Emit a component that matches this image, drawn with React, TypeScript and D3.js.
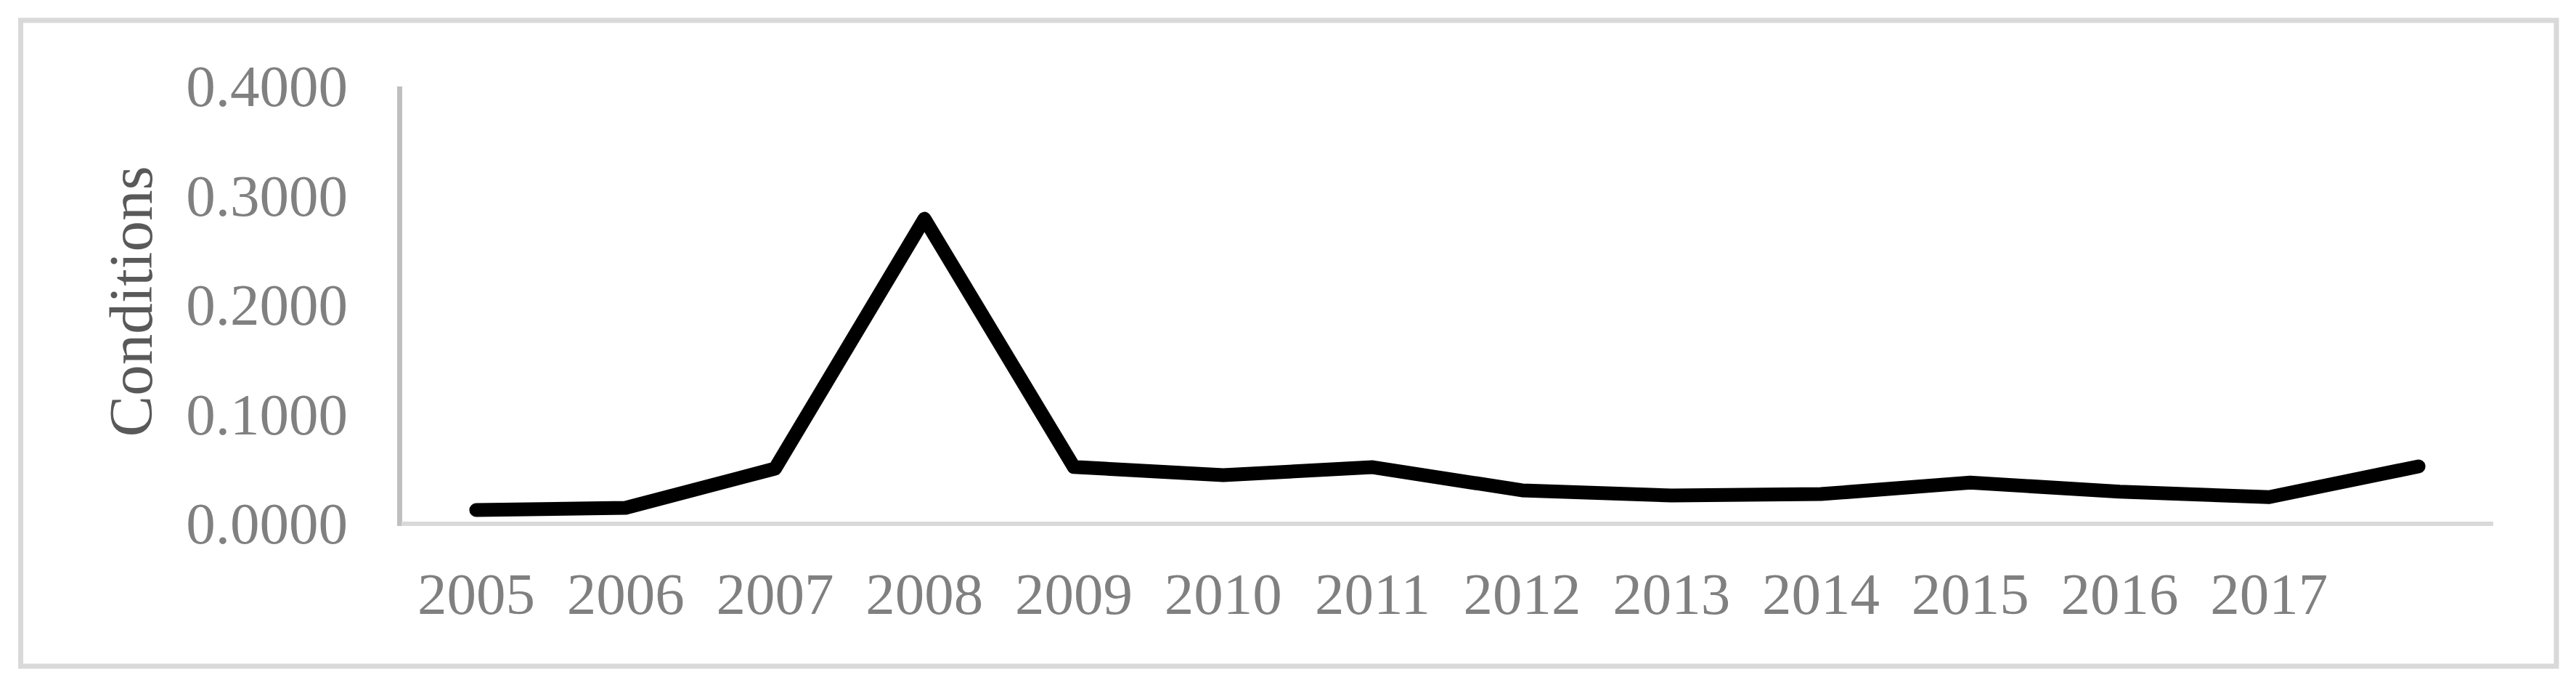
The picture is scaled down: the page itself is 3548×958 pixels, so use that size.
import React from "react";
import * as d3 from "d3";

const categories = ["2005","2006","2007","2008","2009","2010","2011","2012","2013","2014","2015","2016","2017","2018"];
const tickLabels = ["2005","2006","2007","2008","2009","2010","2011","2012","2013","2014","2015","2016","2017",""];
const values = [0.0126,0.0146,0.0505,0.279,0.052,0.0445,0.0518,0.0306,0.0259,0.0272,0.0377,0.0294,0.0244,0.0525];
const yTicks = [0,0.1,0.2,0.3,0.4];
const yTitle = "Conditions";

const W = 3548, H = 958;
const plotLeft = 553, plotRight = 3434, plotTop = 119, plotBottom = 721;
const FONT = "'Liberation Serif', 'Times New Roman', serif";

export default function App() {
  const x = d3.scalePoint<string>().domain(categories).range([plotLeft, plotRight]).padding(0.5);
  const y = d3.scaleLinear().domain([0, 0.4]).range([plotBottom, plotTop]);
  const line = d3.line<number>().x((_, i) => x(categories[i]) as number).y(d => y(d));
  return (
    <svg width={W} height={H} style={{ position: "absolute", left: 0, top: 0, background: "#fff" }}>
      <rect x={0} y={0} width={W} height={H} fill="#fff" />
      <rect x={28.5} y={28} width={3521 - 28.5} height={917 - 28} fill="none" stroke="#d9d9d9" strokeWidth={7} />
      {/* y axis */}
      <line x1={553.5 - 3} x2={553.5 - 3} y1={plotTop} y2={plotBottom + 3} stroke="#bfbfbf" strokeWidth={7} />
      {/* x axis */}
      <line x1={plotLeft} x2={plotRight} y1={plotBottom} y2={plotBottom} stroke="#d9d9d9" strokeWidth={6} />
      {yTicks.map(t => (
        <text key={t} x={479} y={y(t) + 27} textAnchor="end" fontFamily={FONT} fontSize={81} fill="#808080">
          {d3.format(".4f")(t)}
        </text>
      ))}
      {categories.map((c, i) => (
        <text key={c} x={x(c) as number} y={845} textAnchor="middle" fontFamily={FONT} fontSize={81} fill="#808080">
          {tickLabels[i]}
        </text>
      ))}
      <text transform={`translate(209,415) rotate(-90)`} textAnchor="middle" fontFamily={FONT} fontSize={85} fill="#595959">
        {yTitle}
      </text>
      <path d={line(values) ?? ""} fill="none" stroke="#000" strokeWidth={19} strokeLinejoin="round" strokeLinecap="round" />
    </svg>
  );
}
